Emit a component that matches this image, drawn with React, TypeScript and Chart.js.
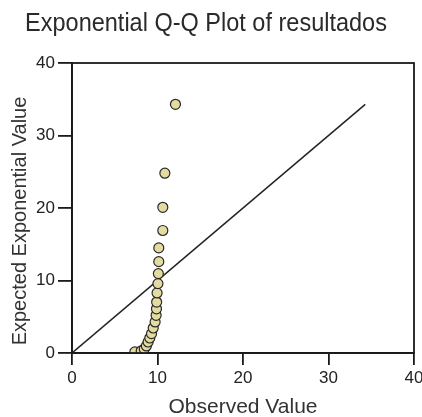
import React, { useEffect, useRef } from "react";
import { Chart, registerables } from "chart.js";

Chart.register(...registerables);

const observedValues = [7.35, 8.1, 8.45, 8.7, 8.9, 9.1, 9.3, 9.5, 9.72, 9.84, 9.88, 9.9, 9.95, 10.05, 10.1, 10.15, 10.15, 10.62, 10.62, 10.86, 12.1];
const expectedValues = [0.15, 0.3, 0.55, 0.97, 1.52, 2.07, 2.67, 3.45, 4.28, 5.2, 6.1, 7.03, 8.28, 9.57, 10.95, 12.6, 14.5, 16.9, 20.1, 24.8, 34.3];
const refLine = [0, 34.3];
const axisTicks = [0, 10, 20, 30, 40];
const chartTitle = "Exponential Q-Q Plot of resultados";
const xTitle = "Observed Value";
const yTitle = "Expected Exponential Value";

const FONT = "'Liberation Sans', Arial, sans-serif";

export default function App() {
  const ref = useRef<HTMLCanvasElement | null>(null);
  useEffect(() => {
    if (!ref.current) return;
    const frame = {
      id: "frame",
      afterDraw(chart: any) {
        const { ctx, chartArea } = chart;
        ctx.save();
        ctx.strokeStyle = "#1a1a1a";
        ctx.lineWidth = 1.8;
        ctx.strokeRect(chartArea.left, chartArea.top, chartArea.right - chartArea.left, chartArea.bottom - chartArea.top);
        ctx.fillStyle = "#2a2a2a";
        ctx.textAlign = "center";
        ctx.textBaseline = "alphabetic";
        ctx.save();
        ctx.translate(206, 31);
        ctx.scale(1, 1.12);
        ctx.font = "23.5px " + FONT;
        ctx.fillText(chartTitle, 0, 0);
        ctx.restore();
        ctx.font = "21px " + FONT;
        ctx.fillStyle = "#333";
        ctx.fillText(xTitle, (chartArea.left + chartArea.right) / 2, 413);
        ctx.translate(26, 221);
        ctx.rotate(-Math.PI / 2);
        ctx.font = "20px " + FONT;
        ctx.fillText(yTitle, 0, 0);
        ctx.restore();
      },
    };
    const chart = new Chart(ref.current, {
      type: "scatter",
      data: {
        datasets: [
          {
            data: observedValues.map((x, i) => ({ x, y: expectedValues[i] })),
            backgroundColor: "#e3dba0",
            borderColor: "#2a2a2a",
            borderWidth: 1.2,
            pointRadius: 5,
            order: 1,
          },
          {
            data: refLine.map((v) => ({ x: v, y: v })),
            showLine: true,
            borderColor: "#222",
            borderWidth: 1.5,
            pointRadius: 0,
            order: 2,
          },
        ],
      },
      options: {
        responsive: false,
        animation: false,
        layout: { padding: { top: 63, right: 8, left: 0, bottom: 0 } },
        plugins: { legend: { display: false }, title: { display: false }, tooltip: { enabled: false } },
        scales: {
          x: {
            type: "linear",
            min: 0,
            max: 40,
            afterBuildTicks: (s: any) => { s.ticks = axisTicks.map((v) => ({ value: v })); },
            afterFit: (s: any) => { s.height = 64; s.paddingLeft = 0; s.paddingRight = 0; },
            ticks: { color: "#222", font: { family: FONT, size: 17 }, padding: 3, maxRotation: 0 },
            grid: { drawOnChartArea: false, tickLength: 12, color: "#1a1a1a", lineWidth: 1.8 },
            border: { display: true, color: "#1a1a1a", width: 1.8 },
          },
          y: {
            type: "linear",
            min: 0,
            max: 40,
            afterBuildTicks: (s: any) => { s.ticks = axisTicks.map((v) => ({ value: v })); },
            afterFit: (s: any) => { s.width = 72; s.paddingTop = 0; s.paddingBottom = 0; },
            ticks: { color: "#222", font: { family: FONT, size: 17 }, padding: 3 },
            grid: { drawOnChartArea: false, tickLength: 14, color: "#1a1a1a", lineWidth: 1.8 },
            border: { display: true, color: "#1a1a1a", width: 1.8 },
          },
        },
      },
      plugins: [frame],
    });
    return () => chart.destroy();
  }, []);
  return (
    <div style={{ position: "fixed", left: 0, top: 0, width: 422, height: 417, background: "#fff" }}>
      <canvas ref={ref} width={422} height={417} />
    </div>
  );
}
